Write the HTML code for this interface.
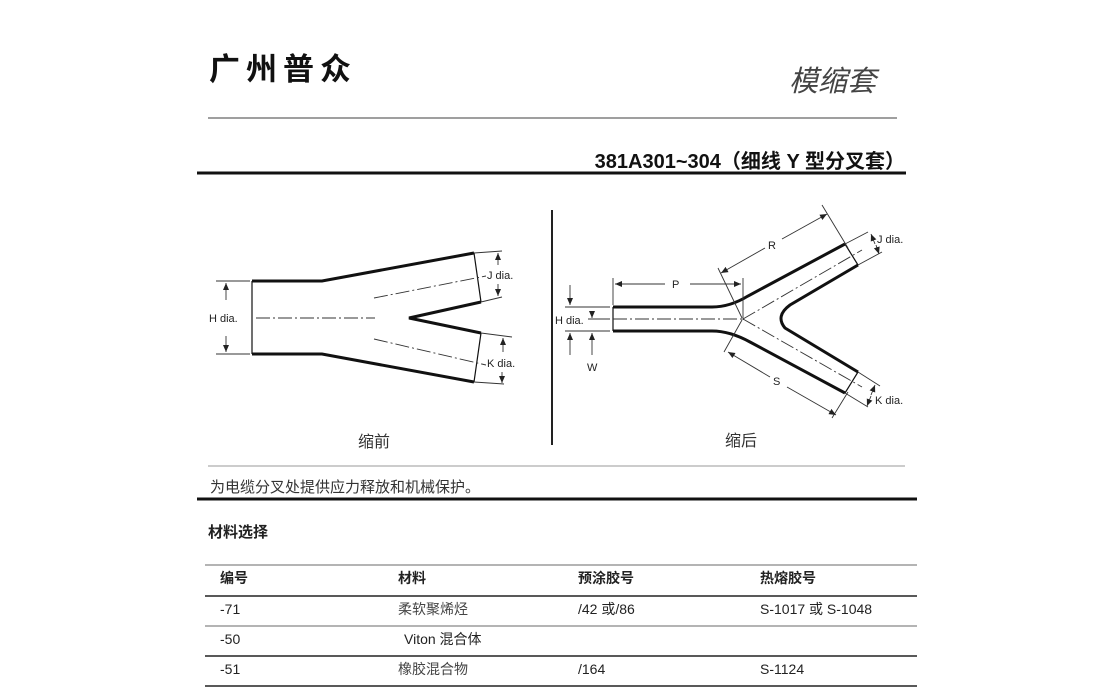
<!DOCTYPE html>
<html><head><meta charset="utf-8"><style>
html,body{margin:0;padding:0;background:#fff;}
svg{display:block;}
text{font-family:"Liberation Sans","Noto Sans CJK SC",sans-serif;}
</style></head><body>
<svg width="1112" height="698" viewBox="0 0 1112 698" xmlns="http://www.w3.org/2000/svg">
<defs>
<marker id="a" markerWidth="8" markerHeight="8" refX="7" refY="4" orient="auto" markerUnits="userSpaceOnUse"><path d="M0,1 L7,4 L0,7 Z" fill="#222"/></marker>
</defs>
<text x="209" y="80" font-size="31" font-weight="bold" fill="#111" letter-spacing="6">广州普众</text>
<text x="789" y="91" font-size="29" font-style="italic" fill="#444" font-family="Liberation Serif,Noto Serif CJK SC,serif">模缩套</text>
<line x1="208" y1="118" x2="897" y2="118" stroke="#666" stroke-width="1.2"/>
<text x="905" y="168" font-size="20" font-weight="bold" fill="#111" text-anchor="end">381A301~304（细线 Y 型分叉套）</text>
<line x1="197" y1="173" x2="906" y2="173" stroke="#111" stroke-width="3"/>

<!-- left diagram -->
<g fill="none" stroke="#111">
<path d="M252,281 L322,281 L474,253 M481,302 L409,318 L481,333 M474,382 L322,354 L252,354" stroke-width="3"/>
<path d="M252,281 L252,354 M474,253 L481,302 M481,333 L474,382" stroke-width="1.2"/>
<g stroke-width="0.9" stroke="#333">
<line x1="216" y1="281" x2="250" y2="281"/><line x1="216" y1="354" x2="250" y2="354"/>
<line x1="226" y1="300" x2="226" y2="283" marker-end="url(#a)"/><line x1="226" y1="336" x2="226" y2="352" marker-end="url(#a)"/>
<line x1="474" y1="253" x2="502" y2="251"/><line x1="481" y1="302" x2="502" y2="297"/>
<line x1="498" y1="265" x2="498" y2="253" marker-end="url(#a)"/><line x1="498" y1="284" x2="498" y2="296" marker-end="url(#a)"/>
<line x1="481" y1="333" x2="512" y2="337"/><line x1="474" y1="382" x2="504" y2="384"/>
<line x1="503" y1="352" x2="503" y2="338" marker-end="url(#a)"/><line x1="502" y1="372" x2="502" y2="383" marker-end="url(#a)"/>
<g stroke-dasharray="14,3,2,3">
<line x1="256" y1="318" x2="375" y2="318"/><line x1="374" y1="298" x2="486" y2="276"/><line x1="374" y1="339" x2="486" y2="365"/>
</g></g>
</g>
<g font-size="11" fill="#222">
<rect x="208" y="311" width="36" height="13" fill="#fff"/>
<text x="209" y="322">H dia.</text>
<text x="487" y="279">J dia.</text>
<text x="487" y="367">K dia.</text>
</g>
<text x="358" y="447" font-size="16" fill="#333" font-family="Liberation Serif,Noto Serif CJK SC,serif">缩前</text>

<line x1="552" y1="210" x2="552" y2="445" stroke="#222" stroke-width="2"/>

<!-- right diagram -->
<g fill="none" stroke="#111">
<path d="M613,307 L712,307 Q730,307 748,296 L845,244 M858,265 L790,305 Q775,316 785,328 L858,372 M845,393 L750,342 Q730,331 712,331 L613,331" stroke-width="3"/>
<path d="M613,307 L613,331 M845,244 L858,265 M858,372 L845,393" stroke-width="1.2"/>
<g stroke-width="0.9" stroke="#333">
<line x1="613" y1="278" x2="613" y2="305"/><line x1="743" y1="278" x2="743" y2="320"/>
<line x1="665" y1="284" x2="615" y2="284" marker-end="url(#a)"/><line x1="690" y1="284" x2="741" y2="284" marker-end="url(#a)"/>
<line x1="718" y1="268" x2="742" y2="318"/><line x1="822" y1="205" x2="848" y2="248"/>
<line x1="765" y1="248" x2="721" y2="273" marker-end="url(#a)"/><line x1="782" y1="239" x2="827" y2="214" marker-end="url(#a)"/>
<line x1="724" y1="352" x2="742" y2="320"/><line x1="832" y1="418" x2="848" y2="392"/>
<line x1="770" y1="377" x2="728" y2="352" marker-end="url(#a)"/><line x1="787" y1="387" x2="836" y2="415" marker-end="url(#a)"/>
<line x1="845" y1="244" x2="868" y2="232"/><line x1="858" y1="265" x2="882" y2="252"/>
<line x1="875" y1="244" x2="871" y2="234" marker-end="url(#a)"/><line x1="876" y1="245" x2="879" y2="254" marker-end="url(#a)"/>
<line x1="858" y1="372" x2="880" y2="386"/><line x1="845" y1="393" x2="868" y2="407"/>
<line x1="871" y1="395" x2="875" y2="385" marker-end="url(#a)"/><line x1="871" y1="396" x2="867" y2="406" marker-end="url(#a)"/>
<line x1="565" y1="307" x2="610" y2="307"/><line x1="565" y1="331" x2="610" y2="331"/>
<line x1="570" y1="285" x2="570" y2="305" marker-end="url(#a)"/><line x1="570" y1="355" x2="570" y2="333" marker-end="url(#a)"/>
<line x1="592" y1="312" x2="592" y2="318" marker-end="url(#a)"/><line x1="592" y1="355" x2="592" y2="333" marker-end="url(#a)"/>
<line x1="585" y1="319" x2="610" y2="319"/>
<g stroke-dasharray="14,3,2,3">
<line x1="613" y1="319" x2="743" y2="319"/><line x1="743" y1="319" x2="862" y2="250"/><line x1="743" y1="319" x2="862" y2="387"/>
</g></g>
</g>
<g font-size="11" fill="#222">
<rect x="670" y="278" width="14" height="12" fill="#fff"/><text x="672" y="288">P</text>
<rect x="766" y="238" width="14" height="13" fill="#fff"/><text x="768" y="249">R</text>
<rect x="771" y="374" width="14" height="13" fill="#fff"/><text x="773" y="385">S</text>
<text x="877" y="243">J dia.</text>
<text x="875" y="404">K dia.</text>
<rect x="554" y="313" width="34" height="13" fill="#fff"/><text x="555" y="324">H dia.</text>
<text x="587" y="371">W</text>
</g>
<text x="725" y="446" font-size="16" fill="#333" font-family="Liberation Serif,Noto Serif CJK SC,serif">缩后</text>

<line x1="208" y1="466" x2="905" y2="466" stroke="#999" stroke-width="1"/>
<text x="210" y="492" font-size="15" fill="#333" font-family="Liberation Serif,Noto Serif CJK SC,serif">为电缆分叉处提供应力释放和机械保护。</text>
<line x1="197" y1="499" x2="917" y2="499" stroke="#111" stroke-width="3"/>
<text x="208" y="537" font-size="15" font-weight="bold" fill="#222">材料选择</text>

<line x1="205" y1="565" x2="917" y2="565" stroke="#888" stroke-width="1.2"/>
<line x1="205" y1="596" x2="917" y2="596" stroke="#222" stroke-width="1.5"/>
<line x1="205" y1="626" x2="917" y2="626" stroke="#888" stroke-width="1.2"/>
<line x1="205" y1="656" x2="917" y2="656" stroke="#222" stroke-width="1.5"/>
<line x1="205" y1="686" x2="917" y2="686" stroke="#222" stroke-width="1.5"/>
<g font-size="14" fill="#222">
<text x="220" y="583" font-weight="bold">编号</text><text x="398" y="583" font-weight="bold">材料</text><text x="578" y="583" font-weight="bold">预涂胶号</text><text x="760" y="583" font-weight="bold">热熔胶号</text>
<text x="220" y="614">-71</text><text x="398" y="614" fill="#444">柔软聚烯烃</text><text x="578" y="614">/42 或/86</text><text x="760" y="614">S-1017 或 S-1048</text>
<text x="220" y="644">-50</text><text x="404" y="644">Viton 混合体</text>
<text x="220" y="674">-51</text><text x="398" y="674" fill="#444">橡胶混合物</text><text x="578" y="674">/164</text><text x="760" y="674">S-1124</text>
</g>
</svg>
</body></html>
